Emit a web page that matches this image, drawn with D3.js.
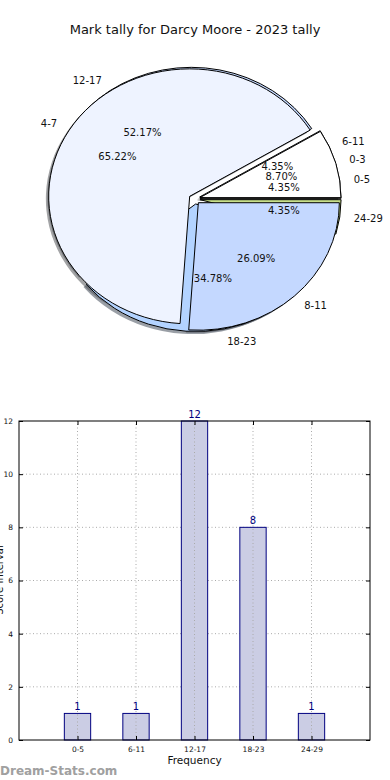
<!DOCTYPE html>
<html><head><meta charset="utf-8">
<script src="https://cdn.jsdelivr.net/npm/d3@7"></script>
<style>
body{margin:0;background:#fff;}
svg{display:block;font-family:"DejaVu Sans",sans-serif;}
</style></head>
<body>
<svg id="c" width="390" height="780"></svg>
<script>
const titleText = "Mark tally for Darcy Moore - 2023 tally";
const tallyBins = ["0-5","6-11","12-17","18-23","24-29"];
const tallyCounts = [1,1,12,8,1];
const rangeBins = ["0-3","4-7","8-11"];
const rangeCounts = [2,15,6];
const tallyColors = ["#ffffff","#eef3ff","#c4d8ff","#b3d3ff","#c8e08a"];
const rangeColors = ["#ffffff","#eef3ff","#c4d8ff"];
const yTicks = [0,2,4,6,8,10,12];
const xLabel = "Frequency";
const yLabel = "Score Interval";
const watermark = "Dream-Stats.com";

const svg = d3.select("#c");

svg.append("text").attr("x",195).attr("y",34).attr("text-anchor","middle")
  .attr("font-size",13).attr("fill","#111").text(titleText);

// ---- Pie ----
const cx = 194.5, cy = 199, rx = 141, ry = 127.5, R = 100, explode = 0.04;
const pie = d3.pie().sort(null).startAngle(Math.PI/2).endAngle(Math.PI/2 - 2*Math.PI);
const arc = d3.arc().innerRadius(0).outerRadius(R);
const pg = svg.append("g");
const shadowLayer = pg.append("g");
const wedgeLayer = pg.append("g");
const textLayer = pg.append("g");

function drawPie(labels, counts, colors){
  const total = d3.sum(counts);
  const arcs = pie(counts);
  arcs.forEach((a,i)=>{
    const mid = (a.startAngle + a.endAngle)/2;
    const ux = Math.sin(mid), uy = -Math.cos(mid);
    const ox = cx + explode*rx*ux, oy = cy + explode*ry*uy;
    const c = d3.color(colors[i]);
    const sc = d3.rgb(c.r*0.3, c.g*0.3, c.b*0.3);
    shadowLayer.append("path").attr("d",arc(a))
      .attr("transform",`translate(${ox-0.02*rx},${oy+0.02*ry}) scale(${rx/R},${ry/R})`)
      .attr("fill",sc).attr("fill-opacity",0.5);
    wedgeLayer.append("path").attr("d",arc(a))
      .attr("transform",`translate(${ox},${oy}) scale(${rx/R},${ry/R})`)
      .attr("fill",colors[i]).attr("stroke","#000").attr("stroke-width",1)
      .attr("vector-effect","non-scaling-stroke").attr("stroke-linejoin","miter");
    textLayer.append("text")
      .attr("x", ox + 1.1*rx*ux).attr("y", oy + 1.1*ry*uy).attr("dy","0.35em")
      .attr("text-anchor", ux > 0 ? "start" : "end")
      .attr("font-size",10).attr("fill","#111").text(labels[i]);
    textLayer.append("text")
      .attr("x", ox + 0.6*rx*ux).attr("y", oy + 0.6*ry*uy).attr("dy","0.35em")
      .attr("text-anchor","middle")
      .attr("font-size",10).attr("fill","#111")
      .text(d3.format(".2f")(counts[i]/total*100)+"%");
  });
}
drawPie(tallyBins, tallyCounts, tallyColors);
drawPie(rangeBins, rangeCounts, rangeColors);

// ---- Bar chart ----
const x0 = 19, x1 = 370, y0 = 740, y1 = 421;
const x = d3.scaleLinear().domain([0, tallyBins.length+1]).range([x0,x1]);
const y = d3.scaleLinear().domain([0,12]).range([y0,y1]);
const bg = svg.append("g");
const barW = x(0.45) - x(0);

// grid
bg.selectAll(".gy").data(yTicks.slice(1,-1)).join("line")
  .attr("x1",x0).attr("x2",x1).attr("y1",d=>y(d)).attr("y2",d=>y(d))
  .attr("stroke","#aaa").attr("stroke-dasharray","1,2.5");
bg.selectAll(".gx").data(tallyBins).join("line")
  .attr("x1",(d,i)=>x(i+1)).attr("x2",(d,i)=>x(i+1)).attr("y1",y0).attr("y2",y1)
  .attr("stroke","#aaa").attr("stroke-dasharray","1,2.5");

// bars
bg.selectAll(".bar").data(tallyCounts).join("rect")
  .attr("x",(d,i)=>x(i+1)-barW/2).attr("width",barW)
  .attr("y",d=>y(d)).attr("height",d=>y0-y(d))
  .attr("fill","#cbcde4").attr("stroke","#000080").attr("stroke-width",1);
bg.selectAll(".bar").raise();
// redraw vertical grid on top (dotted over bars as in reference)
bg.selectAll(".gx2").data(tallyBins).join("line")
  .attr("x1",(d,i)=>x(i+1)).attr("x2",(d,i)=>x(i+1))
  .attr("y1",(d,i)=>y0).attr("y2",(d,i)=>y(tallyCounts[i]))
  .attr("stroke","#aaa").attr("stroke-dasharray","1,2.5");

// value labels
bg.selectAll(".vl").data(tallyCounts).join("text")
  .attr("x",(d,i)=>x(i+1)).attr("y",d=>y(d)-3).attr("text-anchor","middle")
  .attr("font-size",10).attr("fill","#000080").text(d=>d);

// axes
const axL = d3.axisLeft(y).tickValues(yTicks).tickSizeInner(-4).tickSizeOuter(0).tickPadding(6);
const gL = bg.append("g").attr("transform",`translate(${x0},0)`).call(axL);
const axR = d3.axisRight(y).tickValues(yTicks).tickSizeInner(-4).tickSizeOuter(0).tickFormat("");
bg.append("g").attr("transform",`translate(${x1},0)`).call(axR);
const axB = d3.axisBottom(x).tickValues(tallyBins.map((d,i)=>i+1)).tickSizeInner(-4).tickSizeOuter(0)
  .tickPadding(7).tickFormat((d)=>tallyBins[d-1]);
const gB = bg.append("g").attr("transform",`translate(0,${y0})`).call(axB);
const axT = d3.axisTop(x).tickValues(tallyBins.map((d,i)=>i+1)).tickSizeInner(-4).tickSizeOuter(0).tickFormat("");
bg.append("g").attr("transform",`translate(0,${y1})`).call(axT);
bg.selectAll(".domain").remove();
bg.selectAll(".tick text").attr("font-family","DejaVu Sans").attr("font-size",7.5).attr("fill","#111");
bg.selectAll(".tick line").attr("stroke","#000");
bg.append("rect").attr("x",x0).attr("y",y1).attr("width",x1-x0).attr("height",y0-y1)
  .attr("fill","none").attr("stroke","#000").attr("stroke-width",1);

svg.append("text").attr("x",(x0+x1)/2).attr("y",764).attr("text-anchor","middle")
  .attr("font-size",10.5).attr("fill","#111").text(xLabel);
svg.append("text").attr("transform","translate(3,580) rotate(-90)").attr("text-anchor","middle")
  .attr("font-size",10).attr("fill","#111").text(yLabel);
svg.append("text").attr("x",0).attr("y",775).attr("font-size",12).attr("font-weight","bold")
  .attr("fill","#a0a0a0").text(watermark);
</script>
</body></html>
